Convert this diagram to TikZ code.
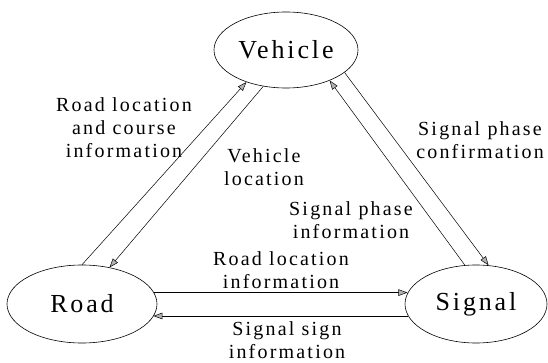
\documentclass[tikz,border=0pt]{standalone}
\usepackage{fontspec}
\setmainfont{Liberation Serif}[LetterSpace=11]
\usetikzlibrary{shapes.geometric,arrows.meta}

\begin{document}
\begin{tikzpicture}[x=1pt,y=1pt,yscale=-1,
  entity/.style={draw,ellipse,line width=0.6pt,inner sep=0pt,font=\fontsize{26}{30}\selectfont},
  flow/.style={line width=0.5pt,-{Triangle[length=9pt,width=6.5pt,fill=black!30]}},
  note/.style={align=center,inner sep=0pt,font=\fontsize{20}{23}\selectfont}]
\useasboundingbox (0,0) rectangle (548,363);

% Shape: Ellipses
\node [entity,minimum width=144pt,minimum height=76pt] (vehicle) at (286,50) {Vehicle};
\node [entity,minimum width=150pt,minimum height=78pt] (road) at (82,304) {Road};
\node [entity,minimum width=142pt,minimum height=78pt] (signal) at (476,304) {Signal};

% Arrows
\draw [flow] (road.90) -- (vehicle.219);
\draw [flow] (vehicle.238) -- (road.53);
\draw [flow] (signal.106) -- (vehicle.325);
\draw [flow] (vehicle.339) -- (signal.72);
\draw [flow] (road.9) -- (road.9 -| signal.171);
\draw [flow] (signal.190) -- (signal.190 -| road.350);

% Text Node
\node [note] (roadcourse) at (124,128) {Road location\\and course\\information};
% Text Node
\node [note] (vehicleloc) at (264,167) {Vehicle\\location};
% Text Node
\node [note] (phaseconf) at (480,140) {Signal phase\\confirmation};
% Text Node
\node [note] (phaseinfo) at (351,220) {Signal phase\\information};
% Text Node
\node [note] (roadloc) at (281,270) {Road location\\information};
% Text Node
\node [note] (signsign) at (287,340) {Signal sign\\information};
\end{tikzpicture}
\end{document}
